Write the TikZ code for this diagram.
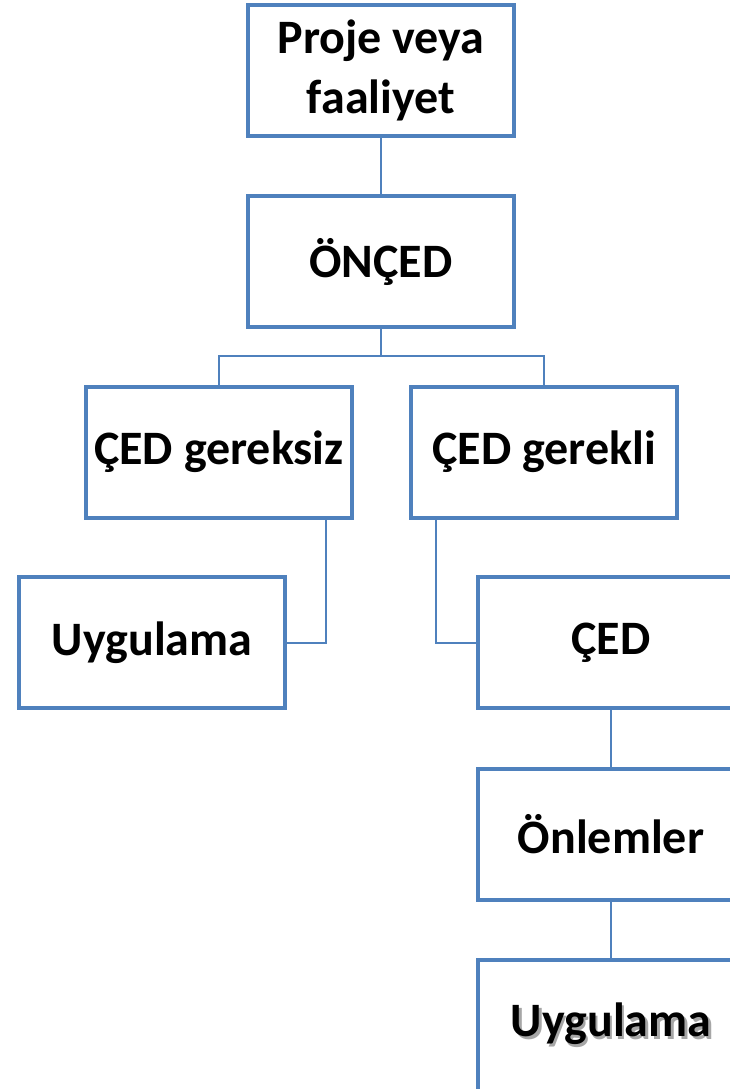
\documentclass[tikz,border=0pt]{standalone}
\usepackage{fontspec}
\setmainfont{Carlito}
\usetikzlibrary{calc}
\definecolor{boxblue}{HTML}{4F81BD}
\newcommand{\shadowed}[1]{\makebox[0pt][l]{\hspace{2.5pt}\raisebox{-3pt}{\textcolor{black!35}{#1}}}#1}
\begin{document}
\begin{tikzpicture}[x=1pt,y=-1pt,
  box/.style={draw=boxblue,line width=4pt,fill=white,minimum width=266pt,minimum height=131pt,inner sep=0pt,outer sep=0pt,align=center,font=\fontsize{48}{60}\selectfont\bfseries},
  link/.style={draw=boxblue,line width=2pt}]
\useasboundingbox (0,0) rectangle (730,1089);
\clip (0,0) rectangle (730,1089);
\fill[white] (0,0) rectangle (730,1089);
\coordinate (j) at (381,356);
\coordinate (c3) at (326,519);
\coordinate (c4) at (436,519);
\node[box] (B1) at (381,70.5) {Proje veya\\faaliyet};
\node[box] (B2) at (381,261.5) {ÖNÇED};
\node[box] (B3) at (219,452) {ÇED gereksiz};
\node[box] (B4) at (544,452) {ÇED gerekli};
\node[box] (B5) at (152,642.5) {Uygulama};
\node[box] (B6) at (611,642.5) {ÇED};
\node[box] (B7) at (611,834) {Önlemler};
\node[box] (B8) at (611,1025.5) {\shadowed{Uygulama}};
\draw[link] (B1.south) -- (B2.north);
\draw[link] (B2.south) -- (j);
\draw[link] (B3.north) |- (j) -| (B4.north);
\draw[link] (c3 |- B3.south) |- (B5.east);
\draw[link] (c4 |- B4.south) |- (B6.west);
\draw[link] (B6.south) -- (B7.north);
\draw[link] (B7.south) -- (B8.north);
\end{tikzpicture}
\end{document}
